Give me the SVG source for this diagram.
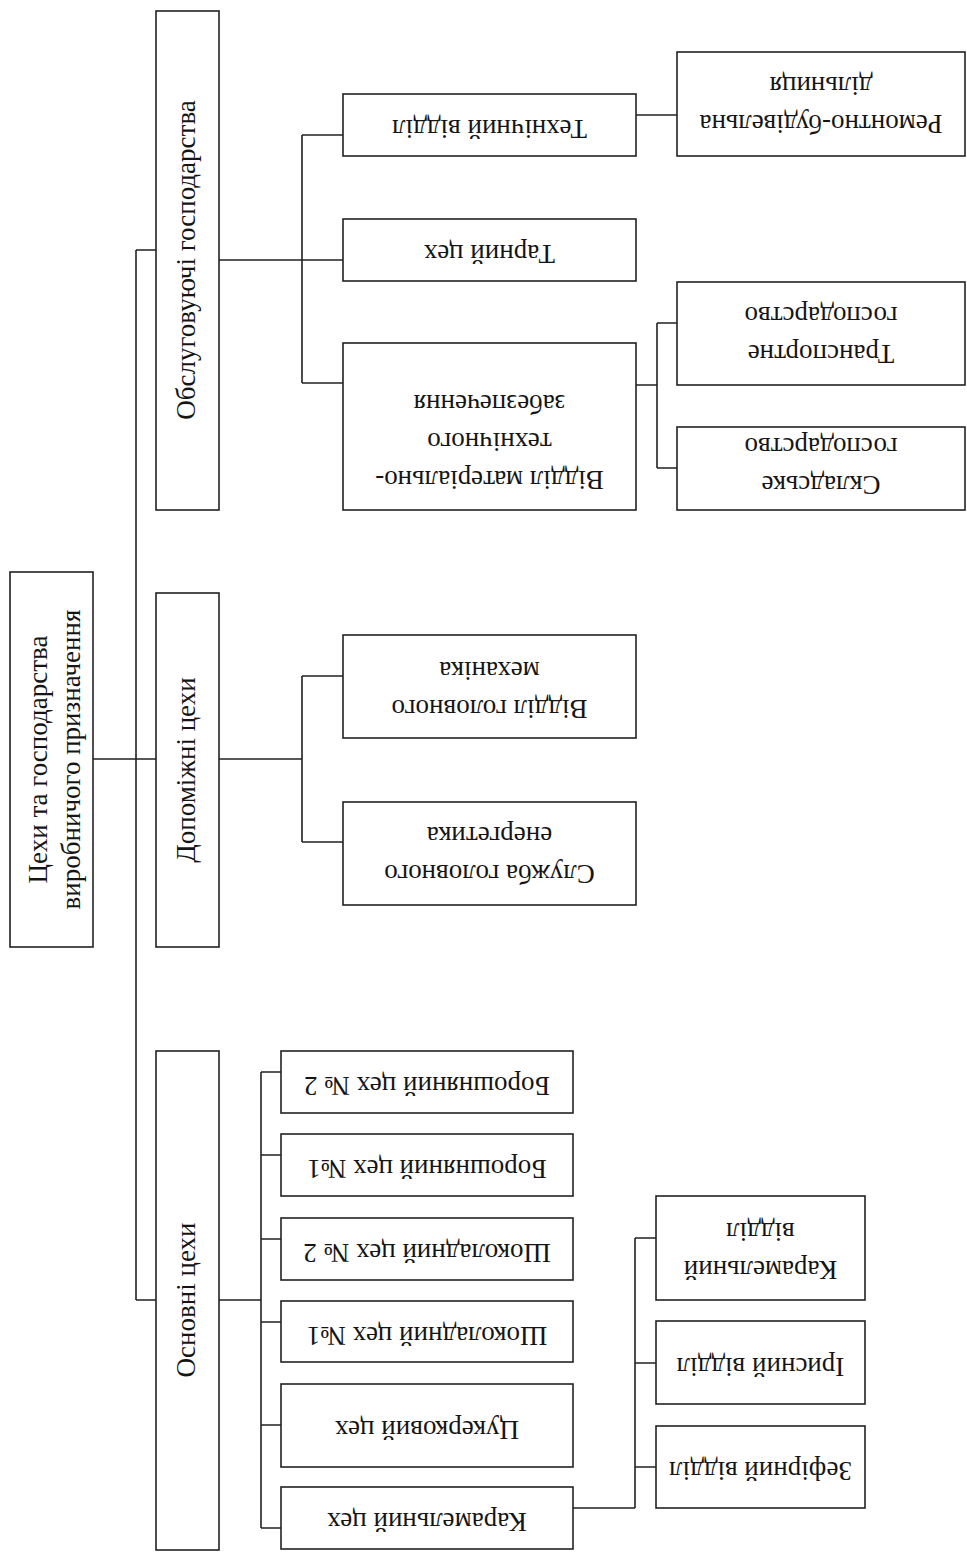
<svg xmlns="http://www.w3.org/2000/svg" width="967" height="1552" viewBox="0 0 967 1552">
<style>
.box{fill:#fff;stroke:#222;stroke-width:1.6}
.ln{fill:none;stroke:#222;stroke-width:1.6}
.t{font-family:"Liberation Serif","Times New Roman",serif;font-size:27px;text-anchor:middle;dominant-baseline:central;fill:#151515}
</style>
<rect width="967" height="1552" fill="#fff"/>
<g id="connectors">
<path class="ln" d="M93,759 H157 M136,250 V1300 M136,250 H156 M136,1300 H156"/>
<path class="ln" d="M219,260 H343 M302,135 V383 M302,135 H343 M302,383 H343"/>
<path class="ln" d="M636,115 H677"/>
<path class="ln" d="M636,385 H657 M657,323 V468 M657,323 H677 M657,468 H677"/>
<path class="ln" d="M219,759 H302 M302,676 V842 M302,676 H343 M302,842 H343"/>
<path class="ln" d="M219,1300 H261 M261,1072 V1528 M261,1072 H281 M261,1155 H281 M261,1239 H281 M261,1322 H281 M261,1425 H281 M261,1528 H281"/>
<path class="ln" d="M573,1508 H635 M635,1238 V1508 M635,1238 H656 M635,1363 H656 M635,1467 H656"/>
</g>
<g id="root"><rect class="box" x="10" y="572" width="83" height="375"/>
<text class="t" transform="translate(54,759.5) rotate(-90)"><tspan x="0" y="-16.5">Цехи та господарства</tspan><tspan x="0" y="16.5">виробничого призначення</tspan></text></g>
<g id="obsl"><rect class="box" x="156" y="11" width="63" height="499"/>
<text class="t" transform="translate(186,260) rotate(-90)">Обслуговуючі господарства</text></g>
<g id="dopom"><rect class="box" x="156" y="593" width="63" height="354"/>
<text class="t" transform="translate(186,770) rotate(-90)">Допоміжні цехи</text></g>
<g id="osn"><rect class="box" x="156" y="1051" width="63" height="499"/>
<text class="t" transform="translate(186,1300) rotate(-90)">Основні цехи</text></g>
<g id="tech"><rect class="box" x="343" y="94" width="293" height="62"/>
<text class="t" transform="translate(489.5,129) rotate(180)">Технічний відділ</text></g>
<g id="tar"><rect class="box" x="343" y="219" width="293" height="62"/>
<text class="t" transform="translate(489.5,254) rotate(180)">Тарний цех</text></g>
<g id="mtz"><rect class="box" x="343" y="343" width="293" height="167"/>
<text class="t" transform="translate(489.5,442) rotate(180)"><tspan x="0" y="-38">Відділ матеріально-</tspan><tspan x="0" y="0">технічного</tspan><tspan x="0" y="38">забезпечення</tspan></text></g>
<g id="remont"><rect class="box" x="677" y="52" width="288" height="104"/>
<text class="t" transform="translate(821,105) rotate(180)"><tspan x="0" y="-19">Ремонтно-будівельна</tspan><tspan x="0" y="19">дільниця</tspan></text></g>
<g id="transp"><rect class="box" x="677" y="282" width="288" height="103"/>
<text class="t" transform="translate(821,335) rotate(180)"><tspan x="0" y="-19">Транспортне</tspan><tspan x="0" y="19">господарство</tspan></text></g>
<g id="sklad"><rect class="box" x="677" y="427" width="288" height="83"/>
<text class="t" transform="translate(821,466) rotate(180)"><tspan x="0" y="-19">Складське</tspan><tspan x="0" y="19">господарство</tspan></text></g>
<g id="mech"><rect class="box" x="343" y="635" width="293" height="103"/>
<text class="t" transform="translate(489.5,690) rotate(180)"><tspan x="0" y="-19">Відділ головного</tspan><tspan x="0" y="19">механіка</tspan></text></g>
<g id="energ"><rect class="box" x="343" y="802" width="293" height="103"/>
<text class="t" transform="translate(489.5,855) rotate(180)"><tspan x="0" y="-19">Служба головного</tspan><tspan x="0" y="19">енергетика</tspan></text></g>
<g id="bor2"><rect class="box" x="281" y="1051" width="292" height="62"/>
<text class="t" transform="translate(427,1086) rotate(180)">Борошняний цех № 2</text></g>
<g id="bor1"><rect class="box" x="281" y="1134" width="292" height="62"/>
<text class="t" transform="translate(427,1169) rotate(180)">Борошняний цех №1</text></g>
<g id="shok2"><rect class="box" x="281" y="1218" width="292" height="62"/>
<text class="t" transform="translate(427,1253) rotate(180)">Шоколадний цех № 2</text></g>
<g id="shok1"><rect class="box" x="281" y="1301" width="292" height="61"/>
<text class="t" transform="translate(427,1335.5) rotate(180)">Шоколадний цех №1</text></g>
<g id="tsuk"><rect class="box" x="281" y="1384" width="292" height="83"/>
<text class="t" transform="translate(427,1429.5) rotate(180)">Цукерковий цех</text></g>
<g id="karc"><rect class="box" x="281" y="1487" width="292" height="62"/>
<text class="t" transform="translate(427,1522) rotate(180)">Карамельний цех</text></g>
<g id="karv"><rect class="box" x="656" y="1196" width="209" height="104"/>
<text class="t" transform="translate(760.5,1251) rotate(180)"><tspan x="0" y="-19">Карамельний</tspan><tspan x="0" y="19">відділ</tspan></text></g>
<g id="iris"><rect class="box" x="656" y="1321" width="209" height="83"/>
<text class="t" transform="translate(760.5,1366.5) rotate(180)">Ірисний відділ</text></g>
<g id="zef"><rect class="box" x="656" y="1426" width="209" height="82"/>
<text class="t" transform="translate(760.5,1471) rotate(180)">Зефірний відділ</text></g>
</svg>
